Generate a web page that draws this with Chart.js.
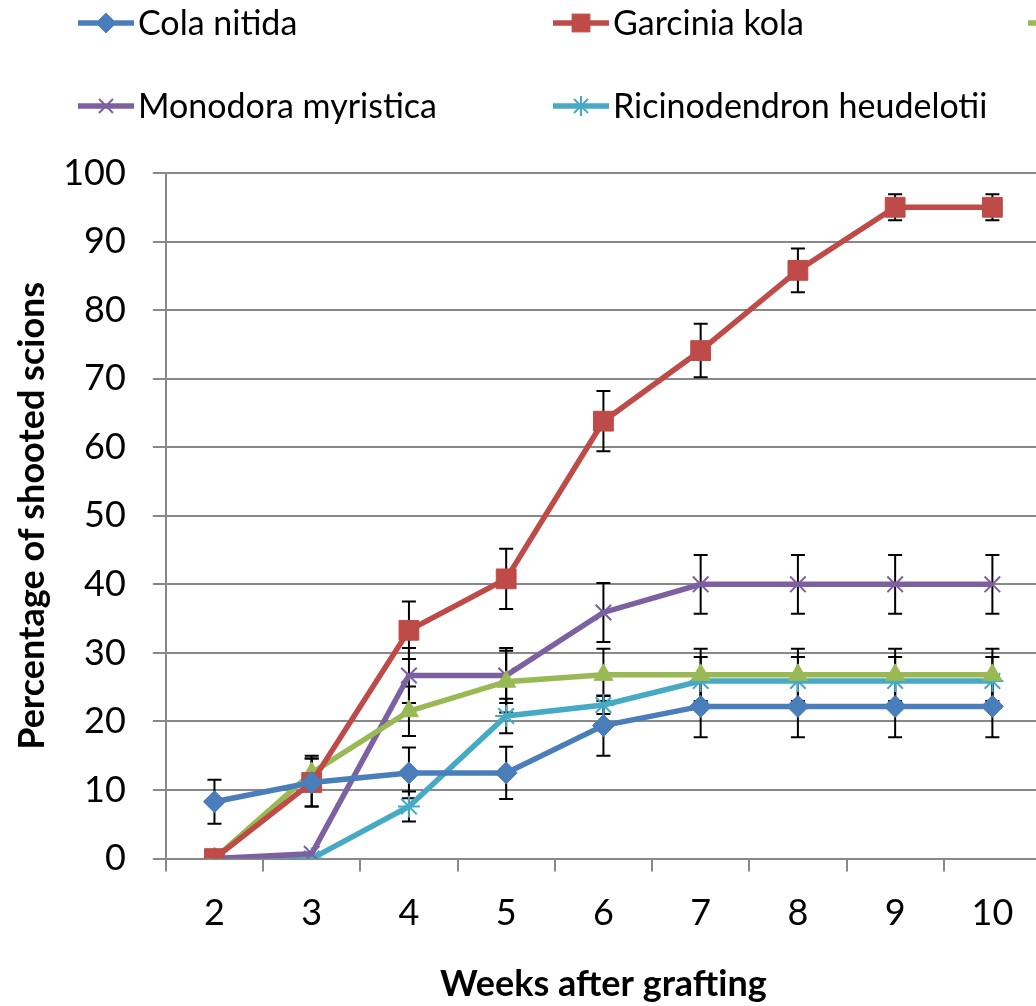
<!DOCTYPE html>
<html>
<head>
<meta charset="utf-8">
<script src="https://cdn.jsdelivr.net/npm/chart.js@4"></script>
<style>
  html, body { margin: 0; padding: 0; background: #fff; overflow: hidden; }
  #wrap { width: 1056px; height: 1006px; }
</style>
</head>
<body>
<div id="wrap"><canvas id="graftChart" width="1056" height="1006"></canvas></div>
<script>
// weeks after grafting
const weeks = ['2', '3', '4', '5', '6', '7', '8', '9', '10'];

// percentage of shooted scions per species
const colaNitida   = [8.3, 11.1, 12.5, 12.5, 19.4, 22.2, 22.2, 22.2, 22.2];
const garciniaKola = [0, 11.1, 33.3, 40.8, 63.8, 74.1, 85.8, 95.0, 95.0];
const irvingia     = [0, 12.5, 21.5, 25.8, 26.8, 26.8, 26.8, 26.8, 26.8];
const monodora     = [0, 0.7, 26.7, 26.7, 35.9, 40.0, 40.0, 40.0, 40.0];
const ricinodendron = [0, 0, 7.6, 20.8, 22.4, 25.9, 25.9, 25.9, 25.9];

// error bar half-lengths
const colaErr     = [3.2, 3.5, 3.7, 3.8, 4.4, 4.5, 4.5, 4.5, 4.5];
const garciniaErr = [0, 3.5, 4.2, 4.4, 4.4, 3.9, 3.2, 1.9, 1.9];
const irvingiaErr = [0, 2.5, 3.6, 4.5, 3.8, 3.8, 3.8, 3.8, 3.8];
const monodoraErr = [0, 0, 4.0, 4.0, 4.3, 4.3, 4.3, 4.3, 4.3];
const ricinoErr   = [0, 0, 2.2, 2.5, 1.3, 3.5, 3.5, 3.5, 3.5];

const yTicks = [0, 10, 20, 30, 40, 50, 60, 70, 80, 90, 100];

Chart.defaults.font.family = 'Lato, "Open Sans", sans-serif';
Chart.defaults.color = '#000';

function series(label, data, errors, color, style, radius) {
    return {
        label: label,
        data: data,
        errors: errors,
        borderColor: color,
        backgroundColor: color,
        borderWidth: 5.5,
        pointStyle: style,
        pointRadius: radius,
        pointHoverRadius: radius,
        pointBorderWidth: (style == 'crossRot' || style == 'star') ? 2 : 1,
        pointBorderColor: color,
        pointBackgroundColor: color,
        tension: 0
    };
}

// error bars drawn under the markers
const errorBars = {
    id: 'errorBars',
    beforeDatasetsDraw(chart) {
        const ctx = chart.ctx;
        const y = chart.scales.y;
        ctx.save();
        ctx.strokeStyle = '#000';
        ctx.lineWidth = 2;
        chart.data.datasets.forEach((ds, i) => {
            const meta = chart.getDatasetMeta(i);
            meta.data.forEach((pt, j) => {
                const e = ds.errors[j];
                if (!e) return;
                const top = y.getPixelForValue(ds.data[j] + e);
                const bot = y.getPixelForValue(ds.data[j] - e);
                ctx.beginPath();
                ctx.moveTo(pt.x, top); ctx.lineTo(pt.x, bot);
                ctx.moveTo(pt.x - 7, top); ctx.lineTo(pt.x + 7, top);
                ctx.moveTo(pt.x - 7, bot); ctx.lineTo(pt.x + 7, bot);
                ctx.stroke();
            });
        });
        ctx.restore();
    }
};

// two-row legend like the spreadsheet one
const gridLegend = {
    id: 'gridLegend',
    afterDraw(chart) {
        const ctx = chart.ctx;
        ctx.save();
        ctx.font = '34px Lato, "Open Sans", sans-serif';
        ctx.textBaseline = 'middle';
        chart.data.datasets.forEach((ds, i) => {
            const x = 78 + (i % 3) * 475;
            const yy = 23 + Math.floor(i / 3) * 83;
            ctx.strokeStyle = ds.borderColor;
            ctx.lineWidth = 5.5;
            ctx.beginPath();
            ctx.moveTo(x, yy); ctx.lineTo(x + 56, yy);
            ctx.stroke();
            ctx.fillStyle = ds.backgroundColor;
            ctx.lineWidth = ds.pointBorderWidth;
            Chart.helpers.drawPoint(ctx, {
                pointStyle: ds.pointStyle, radius: ds.pointRadius * 0.9, rotation: 0,
                borderWidth: ds.pointBorderWidth
            }, x + 28, yy);
            ctx.fillStyle = '#000';
            ctx.fillText(ds.label, x + 60, yy + 1);
        });
        ctx.restore();
    }
};

new Chart(document.getElementById('graftChart'), {
    type: 'line',
    data: {
        labels: weeks,
        datasets: [
            series('Cola nitida', colaNitida, colaErr, '#4A7EBB', 'rectRot', 11),
            series('Garcinia kola', garciniaKola, garciniaErr, '#BE4B48', 'rect', 14),
            series('Irvingia gabonensis', irvingia, irvingiaErr, '#98B954', 'triangle', 11),
            series('Monodora myristica', monodora, monodoraErr, '#7D60A0', 'crossRot', 11),
            series('Ricinodendron heudelotii', ricinodendron, ricinoErr, '#46AAC5', 'star', 11)
        ]
    },
    options: {
        responsive: false,
        animation: false,
        layout: { padding: { top: 173, right: 7, left: 11, bottom: 0 } },
        plugins: {
            legend: { display: false },
            tooltip: { enabled: false }
        },
        scales: {
            x: {
                offset: true,
                grid: { display: true, offset: true, drawOnChartArea: false, tickLength: 13, color: '#888', lineWidth: 2 },
                border: { color: '#888', width: 2 },
                ticks: { font: { size: 36 }, padding: 20 },
                title: { display: true, text: 'Weeks after grafting', font: { size: 36, weight: 'bold' }, padding: { top: 8, bottom: 0 } }
            },
            y: {
                min: 0, max: 100,
                afterBuildTicks(scale) { scale.ticks = yTicks.map(v => ({ value: v })); },
                grid: { color: '#888', lineWidth: 2, tickLength: 13 },
                border: { color: '#888', width: 2 },
                ticks: { font: { size: 36 }, padding: 27 },
                title: { display: true, text: 'Percentage of shooted scions', font: { size: 36, weight: 'bold' }, padding: { top: 0, bottom: -18 } }
            }
        }
    },
    plugins: [errorBars, gridLegend]
});
</script>
</body>
</html>
